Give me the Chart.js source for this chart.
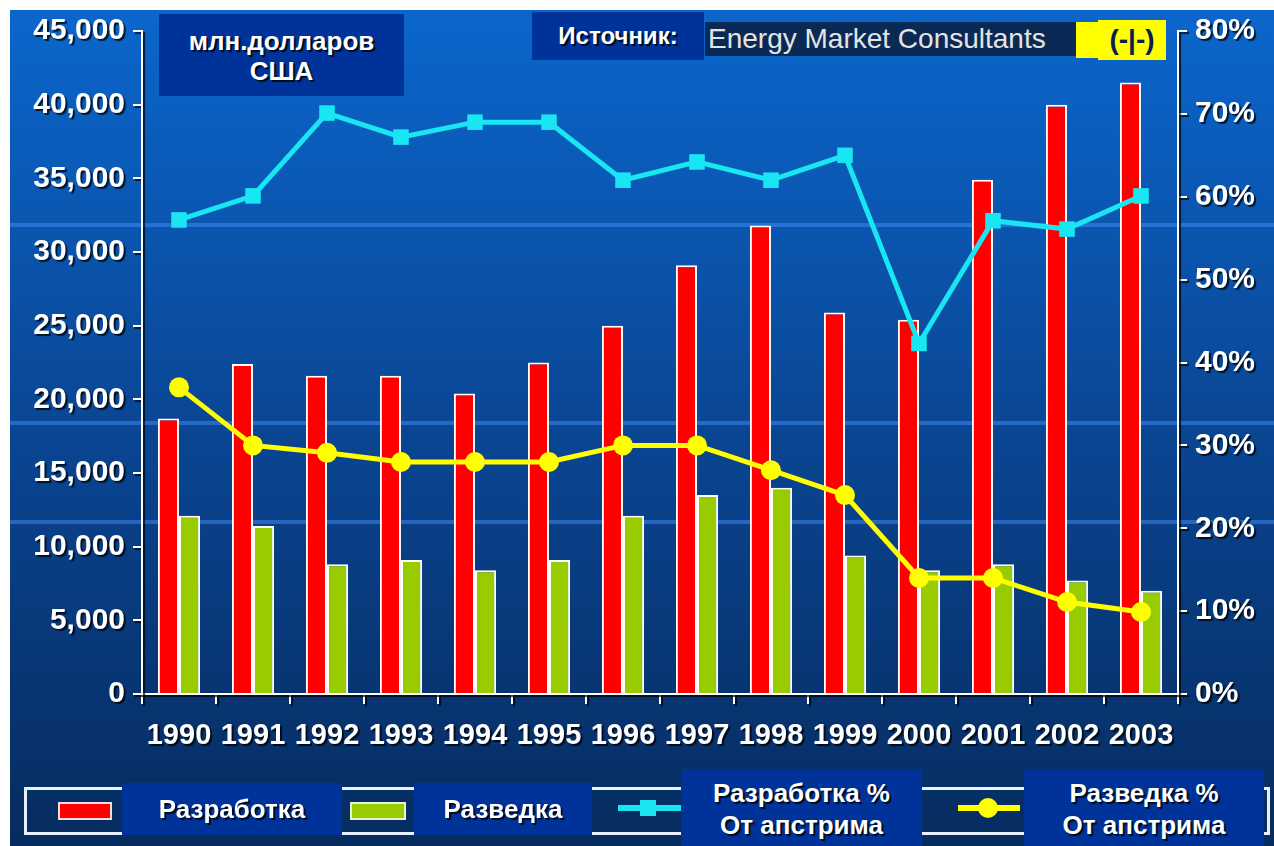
<!DOCTYPE html>
<html lang="ru">
<head>
    <meta charset="UTF-8">
    <title>Разработка и разведка</title>
    <script src="https://cdn.jsdelivr.net/npm/chart.js"></script>
    <style>
        html, body { margin: 0; padding: 0; background: #fff; overflow: hidden; }
        body { width: 1274px; height: 846px; position: relative; font-family: 'Liberation Sans', Arial, sans-serif; }
        .bg {
            position: absolute; left: 10px; top: 10px; right: -20px; bottom: -20px;
            background: linear-gradient(to bottom, #0b66cc 0%, #0a56b0 25%, #0a4592 50%, #083777 75%, #062b5c 100%);
        }
        .stripe { position: absolute; left: 10px; right: -20px; height: 4px; background: rgba(70, 150, 255, 0.45); }
        canvas { position: absolute; left: 0; top: 0; }
        .box { position: absolute; background: #003399; color: #fff; font-weight: bold; text-align: center;
               text-shadow: 2px 2px 1px rgba(0,0,0,0.8); }
        .frame { position: absolute; left: 24px; top: 787px; width: 1240px; height: 42px; border: 3px solid #e8f0ff; }
        .swatch { position: absolute; border: 2px solid #f4e0e0; }
        .legline { position: absolute; height: 6px; }
    </style>
</head>
<body>
    <div class="bg"></div>
    <div class="stripe" style="top:223px"></div>
    <div class="stripe" style="top:421px"></div>
    <div class="stripe" style="top:520px"></div>

    <canvas id="chart" width="1274" height="846"></canvas>

    <!-- Top labels -->
    <div class="box" style="left:159px; top:14px; width:245px; height:82px; font-size:26px; line-height:30px; padding-top:12px; box-sizing:border-box;">млн.долларов<br>США</div>
    <div class="box" style="left:532px; top:12px; width:172px; height:48px; font-size:24px; line-height:48px;">Источник:</div>
    <div style="position:absolute; left:705px; top:22px; width:372px; height:34px; background:#0a2a55; color:#e4e4e4; font-size:28px; line-height:34px; padding-left:3px; box-sizing:border-box;">Energy Market Consultants</div>
    <div style="position:absolute; left:1076px; top:22px; width:22px; height:36px; background:#ffff00;"></div>
    <div style="position:absolute; left:1098px; top:20px; width:68px; height:40px; background:#ffff00; color:#0a2050; font-size:28px; font-weight:bold; line-height:40px; text-align:center;">(-|-)</div>

    <!-- Legend -->
    <div class="frame"></div>
    <div class="swatch" style="left:58px; top:802px; width:50px; height:14px; background:#ff0000;"></div>
    <div class="box" style="left:122px; top:783px; width:220px; height:52px; font-size:26px; line-height:52px;">Разработка</div>
    <div class="swatch" style="left:350px; top:802px; width:52px; height:14px; background:#99cc00; border-color:#e8f4d0;"></div>
    <div class="box" style="left:414px; top:783px; width:178px; height:52px; font-size:26px; line-height:52px;">Разведка</div>
    <div class="legline" style="left:618px; top:805px; width:64px; background:#19e6f2;"></div>
    <div style="position:absolute; left:640px; top:800px; width:16px; height:16px; background:#19e6f2;"></div>
    <div class="box" style="left:681px; top:769px; width:241px; height:77px; font-size:26px; line-height:32px; padding-top:8px; box-sizing:border-box;">Разработка %<br>От апстрима</div>
    <div class="legline" style="left:958px; top:805px; width:62px; background:#ffff00;"></div>
    <div style="position:absolute; left:978px; top:798px; width:20px; height:20px; border-radius:50%; background:#ffff00;"></div>
    <div class="box" style="left:1024px; top:769px; width:240px; height:77px; font-size:26px; line-height:32px; padding-top:8px; box-sizing:border-box;">Разведка %<br>От апстрима</div>

    <script>
        // Data
        const years = ['1990', '1991', '1992', '1993', '1994', '1995', '1996', '1997', '1998', '1999', '2000', '2001', '2002', '2003'];
        const razrabotka = [18700, 22400, 21600, 21600, 20400, 22500, 25000, 29100, 31800, 25900, 25400, 34900, 40000, 41500];
        const razvedka = [12100, 11400, 8800, 9100, 8400, 9100, 12100, 13500, 14000, 9400, 8400, 8800, 7700, 7000];
        const razrabotkaPct = [57.2, 60.1, 70.1, 67.2, 69.0, 69.0, 62.0, 64.2, 62.0, 65.0, 42.3, 57.1, 56.1, 60.1];
        const razvedkaPct = [37.0, 30.0, 29.1, 28.0, 28.0, 28.0, 30.0, 30.0, 27.0, 24.0, 14.0, 14.0, 11.1, 9.9];

        const tickFont = { family: "'Liberation Sans', Arial, sans-serif", size: 30, weight: 'bold' };
        const xFont = { family: "'Liberation Sans', Arial, sans-serif", size: 29, weight: 'bold' };

        // text shadow for axis labels
        const shadowPlugin = {
            id: 'shadow',
            beforeDraw(c) {
                c.ctx.save();
                c.ctx.shadowColor = 'rgba(0,0,0,0.75)';
                c.ctx.shadowOffsetX = 2;
                c.ctx.shadowOffsetY = 2;
                c.ctx.shadowBlur = 1;
            },
            beforeDatasetsDraw(c) {
                c.ctx.restore();
            }
        };

        new Chart(document.getElementById('chart'), {
            data: {
                labels: years,
                datasets: [
                    {
                        type: 'line', label: 'Разработка % От апстрима', data: razrabotkaPct, yAxisID: 'y1', order: 0,
                        borderColor: '#19e6f2', backgroundColor: '#19e6f2', borderWidth: 5,
                        pointStyle: 'rect', pointRadius: 11, pointBorderWidth: 0
                    },
                    {
                        type: 'line', label: 'Разведка % От апстрима', data: razvedkaPct, yAxisID: 'y1', order: 0,
                        borderColor: '#ffff00', backgroundColor: '#ffff00', borderWidth: 5,
                        pointStyle: 'circle', pointRadius: 10, pointBorderWidth: 0
                    },
                    {
                        type: 'bar', label: 'Разработка', data: razrabotka, yAxisID: 'y', order: 1,
                        backgroundColor: '#ff0000', borderColor: '#ffffff', borderWidth: 2,
                        categoryPercentage: 0.57, barPercentage: 1
                    },
                    {
                        type: 'bar', label: 'Разведка', data: razvedka, yAxisID: 'y', order: 1,
                        backgroundColor: '#99cc00', borderColor: '#ffffff', borderWidth: 2,
                        categoryPercentage: 0.57, barPercentage: 1
                    }
                ]
            },
            options: {
                responsive: false,
                animation: false,
                devicePixelRatio: 1,
                layout: { padding: { left: 0, right: 0, top: 31, bottom: 92 } },
                plugins: { legend: { display: false }, tooltip: { enabled: false } },
                scales: {
                    x: {
                        grid: { drawOnChartArea: false, color: '#ffffff', lineWidth: 2, tickLength: 10, offset: true },
                        border: { color: '#ffffff', width: 2 },
                        ticks: { color: '#ffffff', font: xFont, padding: 15, maxRotation: 0, autoSkip: false },
                        afterFit: s => { s.height = 60; }
                    },
                    y: {
                        position: 'left', min: 0, max: 45000,
                        grid: { drawOnChartArea: false, color: '#ffffff', lineWidth: 2, tickLength: 9 },
                        border: { color: '#ffffff', width: 2 },
                        ticks: {
                            stepSize: 5000, color: '#ffffff', font: tickFont, padding: 8,
                            callback: v => v === 0 ? '0' : v.toLocaleString('en-US')
                        },
                        afterFit: s => { s.width = 142; }
                    },
                    y1: {
                        position: 'right', min: 0, max: 80,
                        grid: { drawOnChartArea: false, color: '#ffffff', lineWidth: 2, tickLength: 9 },
                        border: { color: '#ffffff', width: 2 },
                        ticks: { stepSize: 10, color: '#ffffff', font: tickFont, padding: 8, callback: v => v + '%' },
                        afterFit: s => { s.width = 96; }
                    }
                }
            },
            plugins: [shadowPlugin]
        });
    </script>
</body>
</html>
